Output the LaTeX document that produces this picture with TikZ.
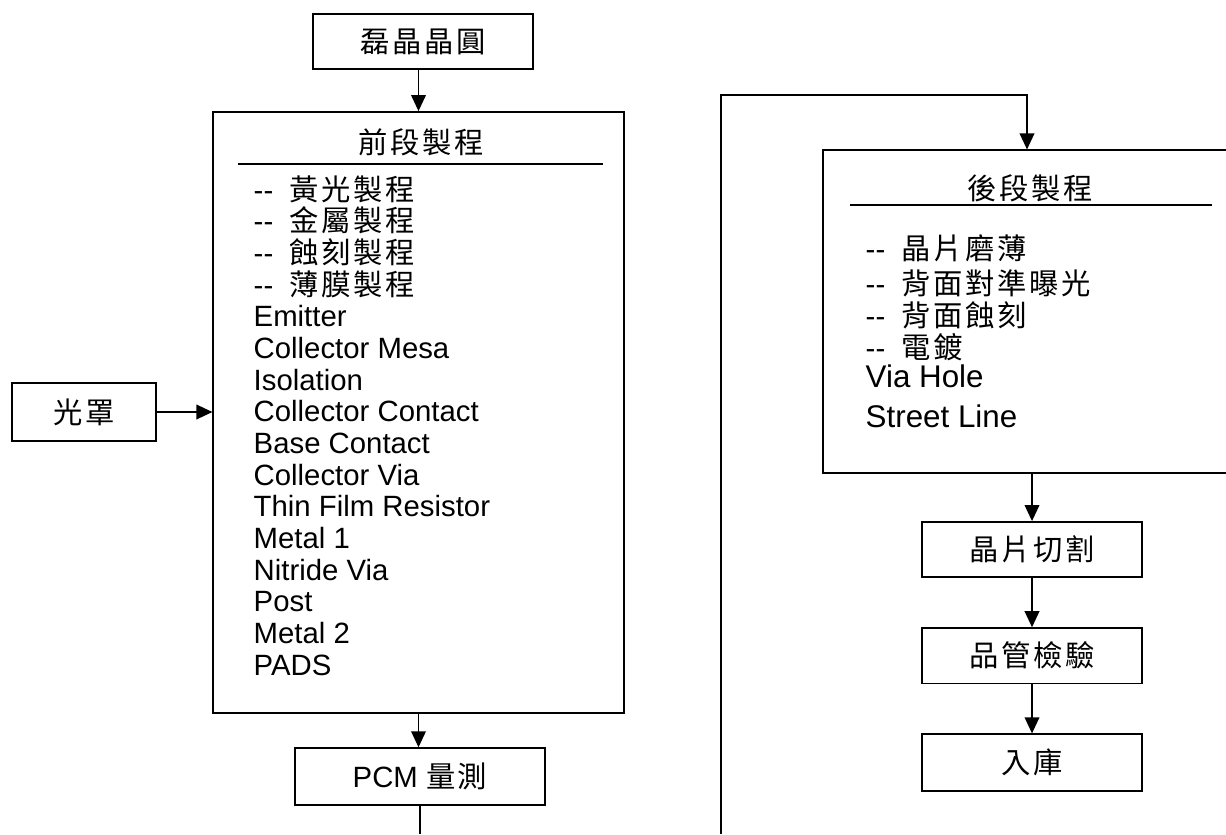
\documentclass[tikz,border=0pt]{standalone}
\usepackage{fontspec}
\setmainfont{Liberation Sans}
\newfontfamily\cjk[Scale=1.0,LetterSpace=9]{Noto Sans CJK TC}
\usetikzlibrary{positioning,arrows.meta}
\newcommand\dd{\mbox{-}\mbox{-}\hspace{0.55em}}

\begin{document}
\begin{tikzpicture}
[
x=0.75pt, y=-0.75pt,
line width=1.1pt,
every node/.style={font=\fontsize{22}{26}\selectfont},
box/.style={draw, rectangle, inner sep=0pt},
stage/.style={box, minimum width=165pt, minimum height=41.5pt},
item/.style={anchor=base west, inner sep=0pt},
arr/.style={-{Triangle[length=12pt,width=11pt]}},
node distance=37pt
]
\useasboundingbox (0,0) rectangle (1226,834);
\clip (0,0) rectangle (1226,834);

\node[stage] (wafer) at (423,41.5) {\cjk 磊晶晶圓};
\node[box, minimum width=108pt, minimum height=43.5pt] (mask) at (84,412) {\cjk 光罩};
\node[box, minimum width=308pt, minimum height=451pt] (front) at (418.5,412.5) {};
\node[stage, minimum width=187.5pt, minimum height=42.75pt] (pcm) at (420,776.5) {PCM {\cjk 量測}};

\node (fronthead) at (421,142) {\cjk 前段製程};
\draw (238,164) -- (603,164);
\foreach \t [count=\i from 0] in {\dd{\cjk 黃光製程}, \dd{\cjk 金屬製程}, \dd{\cjk 蝕刻製程}, \dd{\cjk 薄膜製程},
  Emitter, Collector Mesa, Isolation, Collector Contact, Base Contact, Collector Via,
  Thin Film Resistor, Metal 1, Nitride Via, Post, Metal 2, PADS}
  \node[item] (fs\i) at (253,{200+31.67*\i}) {\t};

\node[box, minimum width=306pt, minimum height=242pt] (back) at (1027,311.5) {};
\node (backhead) at (1030,188) {\cjk 後段製程};
\draw (850,205) -- (1212,205);
\foreach \t/\y [count=\i] in {\dd{\cjk 晶片磨薄}/259, \dd{\cjk 背面對準曝光}/294, \dd{\cjk 背面蝕刻}/326, \dd{\cjk 電鍍}/358}
  \node[item] (bs\i) at (865,\y) {\t};
\node[item, font=\fontsize{23.5}{28}\selectfont] (viahole) at (865,387.5) {Via Hole};
\node[item, font=\fontsize{23.5}{28}\selectfont] (street) at (865,427.5) {Street Line};

\node[stage] (dicing) at (1032,549.5) {\cjk 晶片切割};
\node[stage, below=of dicing] (qc) {\cjk 品管檢驗};
\node[stage, below=of qc, minimum height=42.75pt] (store) {\cjk 入庫};

\coordinate (pcmend) at (420,834);
\coordinate (loopend) at (721,834);
\coordinate (loopturn) at (721,95);

\draw[arr] (wafer.south -| front.north) -- (front.north);
\draw[arr] (mask) -- (mask -| front.west);
\draw[arr] (front.south) -- (front.south |- pcm.north);
\draw (pcm) -- (pcmend);
\draw[arr] (loopend) -- (loopturn) -| (back.north);
\draw[arr] (back.south -| dicing.north) -- (dicing.north);
\draw[arr] (dicing) -- (qc);
\draw[arr] (qc) -- (store);
\end{tikzpicture}
\end{document}
